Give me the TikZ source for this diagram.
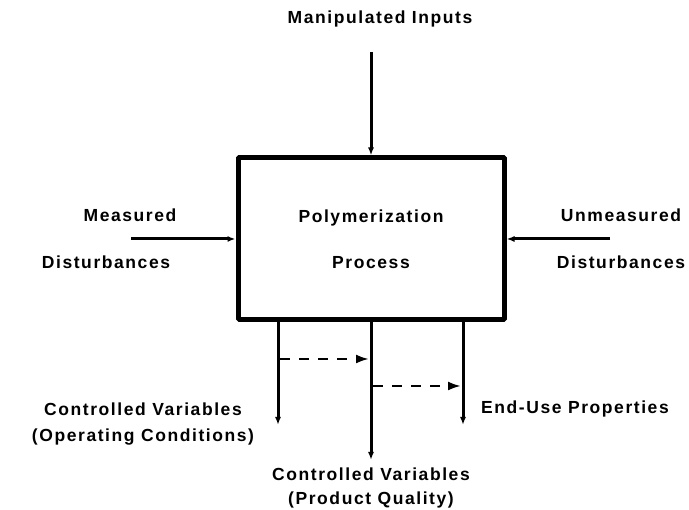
\documentclass[tikz,border=0pt]{standalone}
\usepackage{fontspec}
\setmainfont{Liberation Sans}[LetterSpace=9]
\usetikzlibrary{arrows.meta}

\begin{document}
\begin{tikzpicture}[x=1pt,y=1pt,>={Latex[length=8pt,width=6pt]},line join=bevel,
  lbl/.style={font=\fontsize{17.5}{20}\selectfont\bfseries,inner sep=0pt},
  flow/.style={line width=3pt,->},
  side/.style={line width=3pt,->}]
%%
\useasboundingbox (0,0) rectangle (689,510);
\node (proc) at (371,271) [draw,line width=5pt,minimum width=266pt,minimum height=162pt,inner sep=0pt] {};
  \node (proc_a) at (371,292) [lbl] {Polymerization};
  \node (proc_b) at (371,247) [lbl] {Process};
  \node (in_lbl) at (380,491) [lbl] {Manipulated Inputs};
  \node (md_a) at (130,295) [lbl] {Measured};
  \node (md_b) at (106,248) [lbl] {Disturbances};
  \node (ud_a) at (621,295) [lbl] {Unmeasured};
  \node (ud_b) at (621,248) [lbl] {Disturbances};
  \node (cv_a) at (143,101) [lbl] {Controlled Variables};
  \node (cv_b) at (143,73) [lbl] {(Operating Conditions)};
  \node (eu) at (575,101) [lbl] {End-Use Properties};
  \node (pq_a) at (371,36) [lbl] {Controlled Variables};
  \node (pq_b) at (371,10) [lbl] {(Product Quality)};
%
  \coordinate (in_top) at (371,458);
  \coordinate (md_end) at (131,271);
  \coordinate (ud_end) at (610,271);
  \coordinate (out_l) at (278,189);
  \coordinate (out_m) at (371,189);
  \coordinate (out_r) at (463,189);
  \coordinate (end_l) at (278,85);
  \coordinate (end_m) at (371,50);
  \coordinate (end_r) at (463,85);
  \coordinate (dl_s) at (280,151);
  \coordinate (dl_e) at (369,151);
  \coordinate (dr_s) at (373,124);
  \coordinate (dr_e) at (461,124);
%
  \draw [flow] (in_top) -- (proc.north);
  \draw [side] (md_end) -- (proc.west);
  \draw [side] (ud_end) -- (proc.east);
  \draw [flow] (out_l) -- (end_l);
  \draw [flow] (out_m) -- (end_m);
  \draw [flow] (out_r) -- (end_r);
  \draw [-{Latex[length=13pt,width=9pt]},line width=2.4pt,dash pattern=on 10pt off 9pt] (dl_s) -- (dl_e);
  \draw [-{Latex[length=13pt,width=9pt]},line width=2.4pt,dash pattern=on 10pt off 9pt] (dr_s) -- (dr_e);
%
\end{tikzpicture}
\end{document}
